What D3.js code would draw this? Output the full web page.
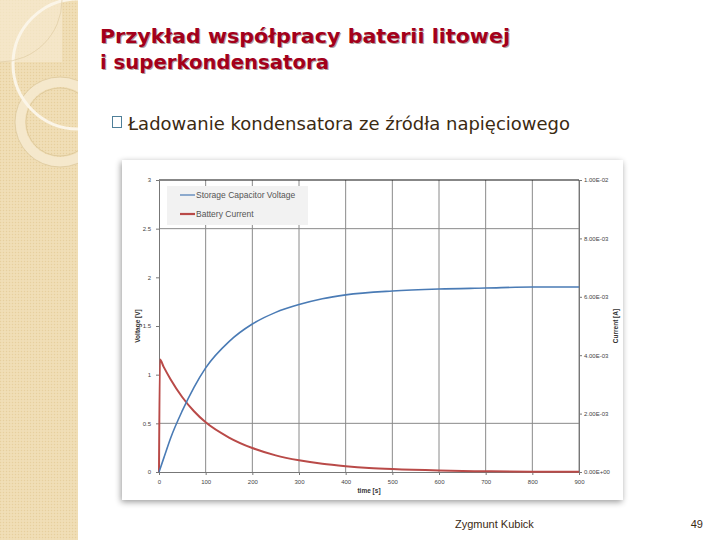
<!DOCTYPE html>
<html>
<head>
<meta charset="utf-8">
<script src="https://cdn.jsdelivr.net/npm/d3@7"></script>
<style>
  html, body { margin: 0; padding: 0; background: #fff; }
  svg { display: block; }
</style>
</head>
<body>
<div id="slide"></div>
<script>
// values
var timeV = [0, 10, 25, 50, 75, 100, 150, 200, 250, 300, 350, 400, 500, 600, 700, 800, 900];
var voltage = [0, 0.14, 0.35, 0.63, 0.87, 1.07, 1.34, 1.52, 1.64, 1.72, 1.78, 1.82, 1.86, 1.88, 1.89, 1.90, 1.90];
var timeI = [0, 2, 10, 25, 50, 75, 100, 150, 200, 250, 300, 350, 400, 450, 500, 600, 700, 800, 900];
var current = [0, 3.85e-3, 3.6e-3, 3.17e-3, 2.56e-3, 2.08e-3, 1.7e-3, 1.18e-3, 0.82e-3, 0.57e-3, 0.4e-3, 0.28e-3, 0.2e-3, 0.14e-3, 0.1e-3, 0.05e-3, 0.025e-3, 0.012e-3, 0.006e-3];
var xTicks = [0, 100, 200, 300, 400, 500, 600, 700, 800, 900];
var vTicks = [0, 0.5, 1, 1.5, 2, 2.5, 3];
var iTicks = [0, 2e-3, 4e-3, 6e-3, 8e-3, 1e-2];
var vGrid = [0.5, 2.5];

var W = 720, H = 540;
var svg = d3.select('#slide').append('svg').attr('width', W).attr('height', H);
var defs = svg.append('defs');

// left strip pattern
var pat = defs.append('pattern').attr('id', 'dots').attr('width', 3).attr('height', 3).attr('patternUnits', 'userSpaceOnUse');
pat.append('rect').attr('width', 3).attr('height', 3).attr('fill', '#efdcb2');
pat.append('rect').attr('width', 1).attr('height', 1).attr('fill', '#e6cf9f');
pat.append('rect').attr('x', 1.5).attr('y', 1.5).attr('width', 1).attr('height', 1).attr('fill', '#f4e6c6');

var shadow = defs.append('filter').attr('id', 'shadow').attr('x', '-5%').attr('y', '-5%').attr('width', '110%').attr('height', '115%');
shadow.append('feGaussianBlur').attr('in', 'SourceAlpha').attr('stdDeviation', 3);
shadow.append('feOffset').attr('dx', -1).attr('dy', 2).attr('result', 'b');
shadow.append('feComponentTransfer').append('feFuncA').attr('type', 'linear').attr('slope', 0.4);
var mg = shadow.append('feMerge');
mg.append('feMergeNode');
mg.append('feMergeNode').attr('in', 'SourceGraphic');

var clipL = defs.append('clipPath').attr('id', 'clipL');
clipL.append('rect').attr('width', 78).attr('height', H);

var strip = svg.append('g').attr('clip-path', 'url(#clipL)');
strip.append('rect').attr('width', 78).attr('height', H).attr('fill', 'url(#dots)');
strip.append('rect').attr('width', 62).attr('height', 62).attr('fill', '#f6ead0').attr('opacity', 0.7);
strip.append('circle').attr('cx', 60).attr('cy', 122).attr('r', 40).attr('fill', 'none').attr('stroke', '#f5e8cc').attr('stroke-width', 10);
strip.append('circle').attr('cx', 60).attr('cy', 122).attr('r', 45).attr('fill', 'none').attr('stroke', '#d9c394').attr('stroke-width', 0.7);
strip.append('circle').attr('cx', 60).attr('cy', 122).attr('r', 34).attr('fill', 'none').attr('stroke', '#d9c394').attr('stroke-width', 0.7);
strip.append('circle').attr('cx', 78).attr('cy', 64).attr('r', 65).attr('fill', 'none').attr('stroke', '#fbf5e8').attr('stroke-width', 3);
strip.append('circle').attr('cx', 0).attr('cy', 0).attr('r', 62).attr('fill', 'none').attr('stroke', '#dcc89e').attr('stroke-width', 0.6);

// title
var titleFont = '"DejaVu Sans", sans-serif';
[['Przykład współpracy baterii litowej', 43, 410], ['i superkondensatora', 69, 229]].forEach(function (t) {
	svg.append('text').attr('x', 101).attr('y', t[1] + 1).text(t[0])
		.attr('font-family', titleFont).attr('font-weight', 'bold').attr('font-size', 20)
		.attr('fill', '#b0a0a0').attr('textLength', t[2]).attr('lengthAdjust', 'spacingAndGlyphs');
	svg.append('text').attr('x', 100).attr('y', t[1]).text(t[0])
		.attr('font-family', titleFont).attr('font-weight', 'bold').attr('font-size', 20)
		.attr('fill', '#a3001b').attr('textLength', t[2]).attr('lengthAdjust', 'spacingAndGlyphs');
});

// bullet
svg.append('rect').attr('x', 112.5).attr('y', 116.5).attr('width', 9).attr('height', 11)
	.attr('fill', 'none').attr('stroke', '#4f7f99').attr('stroke-width', 1);
svg.append('text').attr('x', 128).attr('y', 130).text('Ładowanie kondensatora ze źródła napięciowego')
	.attr('font-family', '"DejaVu Sans", sans-serif').attr('font-size', 17).attr('fill', '#3b2a12')
	.attr('textLength', 442).attr('lengthAdjust', 'spacingAndGlyphs');

// chart card
svg.append('rect').attr('x', 122).attr('y', 160).attr('width', 501).attr('height', 340)
	.attr('fill', '#fff').attr('filter', 'url(#shadow)');

var x = d3.scaleLinear().domain([0, 900]).range([159, 579]);
var yV = d3.scaleLinear().domain([0, 3]).range([472, 180]);
var yI = d3.scaleLinear().domain([0, 0.01]).range([472, 180]);

var chart = svg.append('g');

// grid
chart.append('g').selectAll('line').data(xTicks.slice(1)).join('line')
	.attr('x1', d => x(d)).attr('x2', d => x(d)).attr('y1', yV(3)).attr('y2', yV(0))
	.attr('stroke', '#8a8a8a').attr('stroke-width', 1);
chart.append('g').selectAll('line').data(vGrid).join('line')
	.attr('x1', x(0)).attr('x2', x(900)).attr('y1', d => yV(d)).attr('y2', d => yV(d))
	.attr('stroke', '#8a8a8a').attr('stroke-width', 1);
chart.append('line').attr('x1', x(0)).attr('x2', x(900)).attr('y1', yV(3)).attr('y2', yV(3))
	.attr('stroke', '#111').attr('stroke-width', 1.2);

var tickFont = 6;
function sci(d) {
	if (d === 0) return '0.00E+00';
	var s = d.toExponential(2).toUpperCase().split('E');
	var e = parseInt(s[1], 10);
	return s[0] + 'E' + (e < 0 ? '-' : '+') + (Math.abs(e) < 10 ? '0' : '') + Math.abs(e);
}

function styleAxis(g) {
	g.select('.domain').attr('stroke', '#777');
	g.selectAll('.tick line').attr('stroke', '#777');
	g.selectAll('.tick text').attr('fill', '#444').attr('font-size', tickFont).attr('font-family', '"Liberation Sans", sans-serif');
}

chart.append('g').attr('transform', 'translate(0,' + yV(0) + ')')
	.call(d3.axisBottom(x).tickValues(xTicks).tickSize(3).tickSizeOuter(0).tickPadding(5))
	.call(styleAxis);
chart.append('g').attr('transform', 'translate(' + x(0) + ',0)')
	.call(d3.axisLeft(yV).tickValues(vTicks).tickSize(3).tickSizeOuter(0).tickFormat(d3.format('')).tickPadding(5))
	.call(styleAxis);
chart.append('g').attr('transform', 'translate(' + x(900) + ',0)')
	.call(d3.axisRight(yI).tickValues(iTicks).tickSize(3).tickSizeOuter(0).tickFormat(sci).tickPadding(2))
	.call(styleAxis);

// axis titles
chart.append('text').attr('x', x(450)).attr('y', 493).attr('text-anchor', 'middle').text('time [s]')
	.attr('font-size', 6.5).attr('font-weight', 'bold').attr('fill', '#333').attr('font-family', '"Liberation Sans", sans-serif');
chart.append('text').attr('transform', 'translate(140,' + yV(1.5) + ') rotate(-90)').attr('text-anchor', 'middle').text('Voltage [V]')
	.attr('font-size', 6.5).attr('font-weight', 'bold').attr('fill', '#333').attr('font-family', '"Liberation Sans", sans-serif');
chart.append('text').attr('transform', 'translate(618,' + yI(0.005) + ') rotate(-90)').attr('text-anchor', 'middle').text('Current [A]')
	.attr('font-size', 6.5).attr('font-weight', 'bold').attr('fill', '#333').attr('font-family', '"Liberation Sans", sans-serif');

// series
var lineV = d3.line().x((d, i) => x(timeV[i])).y(d => yV(d)).curve(d3.curveMonotoneX);
var lineI = d3.line().x((d, i) => x(timeI[i])).y(d => yI(d)).curve(d3.curveMonotoneX);
chart.append('path').datum(current).attr('d', lineI).attr('fill', 'none')
	.attr('stroke', '#b94a48').attr('stroke-width', 2);
chart.append('path').datum(voltage).attr('d', lineV).attr('fill', 'none')
	.attr('stroke', '#4a7bb5').attr('stroke-width', 1.6);

// legend
var lg = chart.append('g');
lg.append('rect').attr('x', 167).attr('y', 186).attr('width', 141).attr('height', 39).attr('fill', '#f2f2f2');
[['Storage Capacitor Voltage', '#4a7bb5', 1.2, 195], ['Battery Current', '#b94a48', 2.2, 214]].forEach(function (e) {
	lg.append('line').attr('x1', 180).attr('x2', 195).attr('y1', e[3]).attr('y2', e[3]).attr('stroke', e[1]).attr('stroke-width', e[2]);
	lg.append('text').attr('x', 196).attr('y', e[3] + 3).text(e[0]).attr('font-size', 8.5).attr('fill', '#555')
		.attr('font-family', '"Liberation Sans", sans-serif');
});

// footer
svg.append('text').attr('x', 455).attr('y', 528).text('Zygmunt Kubick').attr('font-size', 11).attr('fill', '#3b2a12')
	.attr('font-family', '"Liberation Sans", sans-serif');
svg.append('text').attr('x', 703).attr('y', 528).attr('text-anchor', 'end').text('49').attr('font-size', 11).attr('fill', '#3b2a12')
	.attr('font-family', '"Liberation Sans", sans-serif');
</script>
</body>
</html>
